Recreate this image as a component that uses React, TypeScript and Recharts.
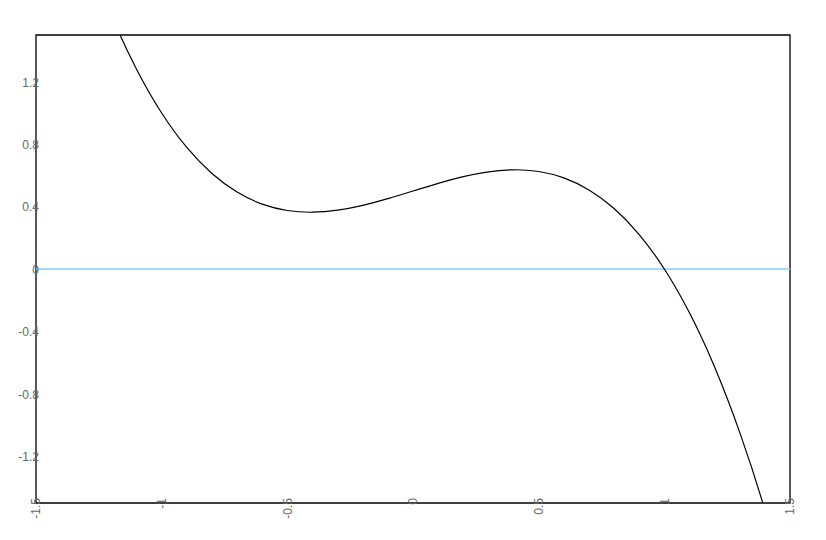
import React from "react";
import { LineChart, Line, XAxis, YAxis, ReferenceLine, ReferenceArea } from "recharts";

const xValues = [-1.3, -1.2, -1.1, -1.0, -0.9, -0.8, -0.7, -0.6, -0.5, -0.4, -0.3, -0.2, -0.1, 0, 0.1, 0.2, 0.3, 0.4, 0.5, 0.6, 0.7, 0.8, 0.9, 1.0, 1.1, 1.2, 1.3, 1.4, 1.5];
const yValues = [2.047, 1.628, 1.281, 1.0, 0.779, 0.612, 0.493, 0.416, 0.375, 0.364, 0.377, 0.408, 0.451, 0.5, 0.549, 0.592, 0.623, 0.636, 0.625, 0.584, 0.507, 0.388, 0.221, 0, -0.281, -0.628, -1.047, -1.544, -2.125];
const xTicks = [-1.5, -1, -0.5, 0, 0.5, 1, 1.5];
const yTicks = [-1.2, -0.8, -0.4, 0, 0.4, 0.8, 1.2];

const data = xValues.map((x, i) => ({ x, y: yValues[i] }));

const textStyle = { fontSize: "12px", fontFamily: "'Liberation Sans', Arial, sans-serif", fill: "#666" };

const XTick = (props: any) => {
  const { x, y, payload } = props;
  return (
    <text
      x={x}
      y={y - 5}
      transform={`rotate(-90 ${x} ${y - 5})`}
      textAnchor="end"
      dy="0.35em"
      style={textStyle}
    >
      {String(payload.value)}
    </text>
  );
};

const YTick = (props: any) => {
  const { y, payload } = props;
  return (
    <text x={31} y={y} textAnchor="end" dy="0.4em" style={textStyle}>
      {String(payload.value)}
    </text>
  );
};

export default function App() {
  return (
    <LineChart
      width={810}
      height={530}
      data={data}
      margin={{ top: 27, right: 28, bottom: 0, left: 0 }}
    >
      <XAxis
        dataKey="x"
        type="number"
        domain={[-1.5, 1.5]}
        ticks={xTicks}
        allowDataOverflow
        axisLine={false}
        tickLine={false}
        tickSize={0}
        tickMargin={0}
        height={35}
        tick={XTick}
        interval={0}
      />
      <YAxis
        type="number"
        domain={[-1.5, 1.5]}
        ticks={yTicks}
        allowDataOverflow
        axisLine={false}
        tickLine={false}
        tickSize={0}
        tickMargin={0}
        width={28}
        tick={YTick}
        interval={0}
      />
      <ReferenceLine y={0} stroke="#87cefa" strokeWidth={1.6} />
      <Line
        dataKey="y"
        type="natural"
        stroke="#000"
        strokeWidth={1.2}
        dot={false}
        isAnimationActive={false}
      />
      <ReferenceArea x1={-1.5} x2={1.5} y1={-1.5} y2={1.5} fill="none" stroke="#000" strokeWidth={1.3} fillOpacity={0} />
    </LineChart>
  );
}
